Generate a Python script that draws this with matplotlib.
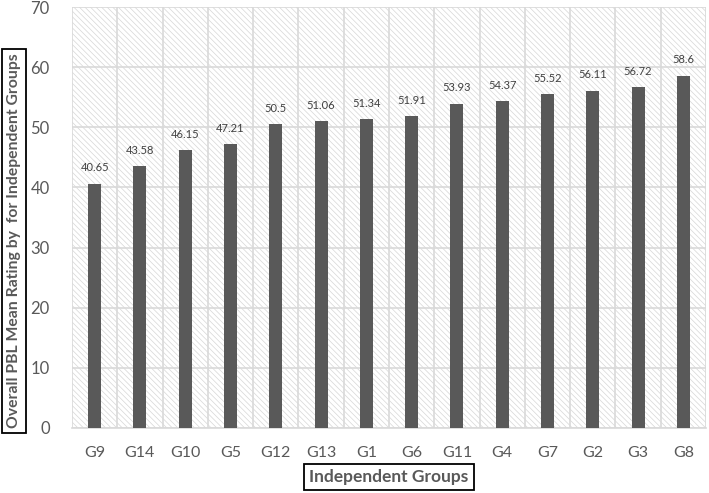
import matplotlib.pyplot as plt
from matplotlib.patches import Rectangle

plt.rcParams['font.family'] = ['Lato', 'DejaVu Sans']
plt.rcParams['hatch.linewidth'] = 0.5
plt.rcParams['hatch.color'] = '#d6d6d6'

groupes = ["G9", "G14", "G10", "G5", "G12", "G13", "G1", "G6", "G11", "G4", "G7", "G2", "G3", "G8"]
moyennes = [40.65, 43.58, 46.15, 47.21, 50.5, 51.06, 51.34, 51.91, 53.93, 54.37, 55.52, 56.11, 56.72, 58.6]
etiquettes = ["40.65", "43.58", "46.15", "47.21", "50.5", "51.06", "51.34", "51.91", "53.93", "54.37",
              "55.52", "56.11", "56.72", "58.6"]

gris = "#595959"

fig = plt.figure(figsize=(7.09, 4.93), dpi=100)
ax = fig.add_axes([72 / 709, 1 - 428 / 493, 634 / 709, 421 / 493])

x = list(range(len(groupes)))

# fond hachuré
fond = Rectangle((0, 0), 1, 1, transform=ax.transAxes, facecolor="white",
                 edgecolor="#d6d6d6", hatch="\\\\\\\\\\\\", linewidth=0, zorder=0)
ax.add_patch(fond)

ax.bar(x, moyennes, width=0.29, color=gris, zorder=3)
for xi, v, t in zip(x, moyennes, etiquettes):
    ax.text(xi, v + 1.7, t, ha="center", va="bottom", fontsize=8, color="#404040", zorder=4)

ax.set_xlim(-0.5, len(groupes) - 0.5)
ax.set_ylim(0, 70)
ax.set_yticks(range(0, 71, 10))
ax.set_xticks(x)
ax.set_xticklabels(groupes)
ax.set_xticks([i + 0.5 for i in range(-1, len(groupes))], minor=True)

ax.grid(axis="y", which="major", color="#d9d9d9", linewidth=1.2, zorder=1)
ax.grid(axis="x", which="minor", color="#d9d9d9", linewidth=1.2, zorder=1)
ax.tick_params(axis="both", which="both", length=0, labelcolor=gris)
ax.tick_params(axis="x", labelsize=11.5, pad=13)
ax.tick_params(axis="y", labelsize=12, pad=16)
for s in ax.spines.values():
    s.set_visible(False)
ax.spines["bottom"].set_visible(True)
ax.spines["bottom"].set_color("#d9d9d9")
ax.spines["bottom"].set_linewidth(1.2)

boite = dict(boxstyle="square,pad=0.3", facecolor="white", edgecolor="black", linewidth=1.3)
fig.text(389 / 709, 1 - 477 / 493, "Independent Groups", ha="center", va="center",
         fontsize=12.5, fontweight="bold", color=gris, bbox=boite)
fig.text(14 / 709, 1 - 241 / 493, "Overall PBL Mean Rating by  for Independent Groups", ha="center",
         va="center", rotation=90, fontsize=11.3, fontweight="bold", color=gris, bbox=boite)

fig.savefig("out.png", dpi=100)
